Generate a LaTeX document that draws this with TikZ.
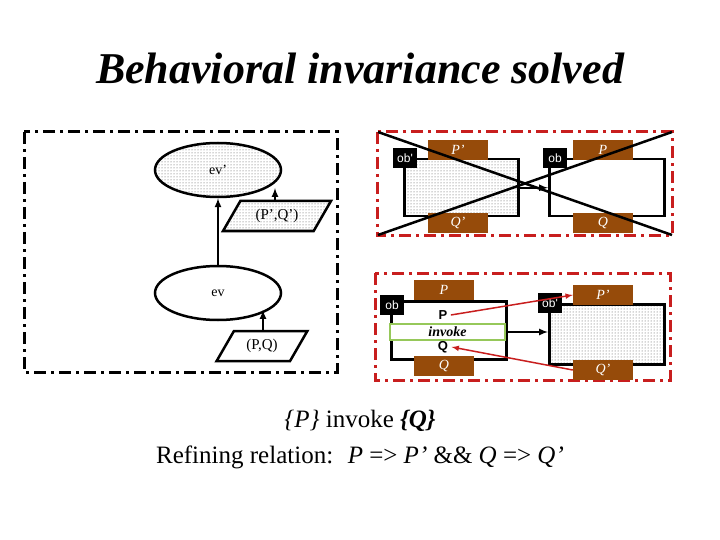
\documentclass[tikz,border=0pt]{standalone}
\usepackage{fontspec}
\setmainfont{Liberation Serif}
\newfontfamily\sansf{Liberation Sans}
\usetikzlibrary{shapes, shapes.geometric, arrows, patterns, positioning}
\definecolor{brownbox}{RGB}{150,75,10}
\definecolor{redline}{RGB}{200,30,30}
\definecolor{greenline}{RGB}{150,200,90}

\tikzset{
  panel/.style={draw, line width=3pt, dash pattern=on 12pt off 5pt on 3pt off 5pt},
  obj/.style={draw, line width=2.5pt, anchor=north west},
  dots/.style={pattern=dots, pattern color=black!70},
  port/.style={fill=brownbox, text=white, font=\itshape\fontsize{14}{14}\selectfont,
    minimum width=60pt, minimum height=20pt, inner sep=0pt},
  tag/.style={fill=black, text=white, font=\sansf\fontsize{12}{12}\selectfont,
    minimum width=24pt, minimum height=20pt, inner sep=0pt},
  event/.style={ellipse, draw, line width=2.5pt, minimum width=126pt, minimum height=54pt,
    font=\fontsize{14}{14}\selectfont},
  pair/.style={trapezium, trapezium left angle=60, trapezium right angle=120, draw,
    line width=2.5pt, minimum width=70pt, minimum height=30pt,
    font=\fontsize{15}{15}\selectfont}
}

\begin{document}
\begin{tikzpicture}[x=1pt, y=-1pt, >=latex]
    \useasboundingbox (0,0) rectangle (720,540);

    \node[font=\bfseries\itshape\fontsize{44}{44}\selectfont] (title) at (360,68) {Behavioral invariance solved};

    % event view
    \draw[panel] (24,132) rectangle (337,372);
    \node[event, dots] (evp) at (218,170) {ev'};
    \node[event] (ev) at (218,293) {ev};
    \node[pair, dots] (pqp) at (277,216) {(P',Q')};
    \node[pair] (pq) at (262,346) {(P,Q)};
    \draw[->, line width=2pt] (ev) -- (evp);
    \draw[->, line width=2pt] (pqp.north -| 275,0) coordinate (c1) -- (c1 |- 0,188);
    \draw[->, line width=2pt] (pq.north -| 263,0) coordinate (c2) -- (c2 |- 0,310);

    % wrong refinement
    \draw[panel, redline] (377,132) rectangle (672,235);
    \node[obj, dots, minimum width=114pt, minimum height=57pt] (objp) at (403,158) {};
    \node[obj, minimum width=115pt, minimum height=57pt] (obja) at (548,158) {};
    \node[port] (pp1) at (458,150) {P'};
    \node[port] (qp1) at (458,223) {Q'};
    \node[port] (p1) at (603,150) {P};
    \node[port] (q1) at (603,223) {Q};
    \node[tag] (obp1) at (405,158) {ob'};
    \node[tag] (ob1) at (555,158) {ob};
    \draw[->, line width=2pt] (objp) -- (obja);
    \draw[line width=2.5pt] (378,132) -- (672,235);
    \draw[line width=2.5pt] (378,235) -- (672,132);

    % right refinement
    \draw[panel, redline] (375,273) rectangle (670,380);
    \node[obj, minimum width=115pt, minimum height=58pt] (objb) at (390,300) {};
    \node[obj, dots, minimum width=115pt, minimum height=60pt] (objq) at (548,303) {};
    \node[port] (p2) at (444,290) {P};
    \node[port] (q2) at (444,366) {Q};
    \node[port] (pp2) at (603,295) {P'};
    \node[port] (qp2) at (603,370) {Q'};
    \node[tag] (ob2) at (392,305) {ob};
    \node[tag] (obp2) at (550,303) {ob'};
    \node[font=\sansf\bfseries\fontsize{13}{13}\selectfont] (pre) at (443,315) {P};
    \node[draw=greenline, line width=2.5pt, fill=white, minimum width=115pt, minimum height=16pt,
      inner sep=0pt, font=\bfseries\itshape\fontsize{14}{14}\selectfont] (inv) at (447.5,332) {invoke};
    \node[font=\sansf\bfseries\fontsize{13}{13}\selectfont] (post) at (443,347) {Q};
    \draw[->, line width=2pt] (inv) -- (inv -| objq.west);
    \draw[->, redline, line width=1.5pt] (pre.east) -- (pp2.west);
    \draw[->, redline, line width=1.5pt] (qp2.west) -- (post.east);

    % caption
    \node[font=\fontsize{25}{25}\selectfont] (spec) at (360,421) {\textit{\{P\}} invoke \textbf{\textit{\{Q\}}}};
    \node[font=\fontsize{25}{25}\selectfont] (refine) at (360,457) {Refining relation: \ \textit{P} => \textit{P'} \&\& \textit{Q} => \textit{Q'}};
\end{tikzpicture}
\end{document}
